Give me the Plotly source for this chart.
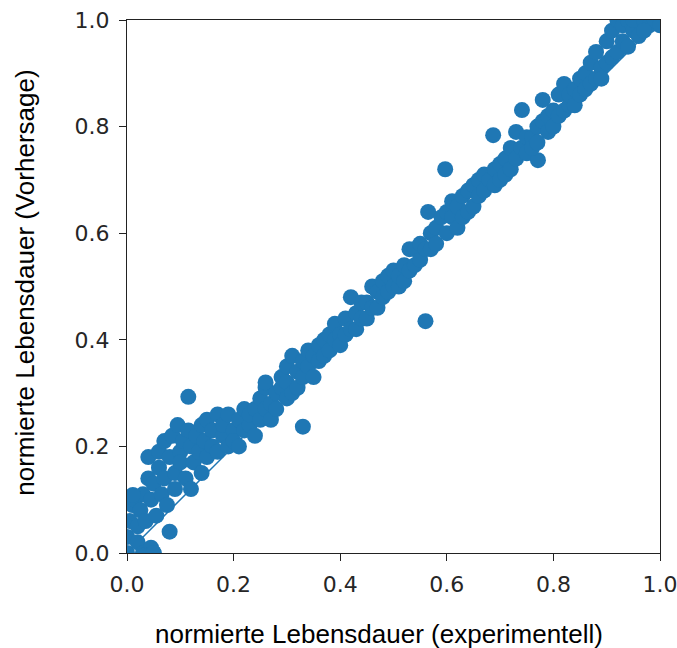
import plotly.graph_objects as go

# experimental normalized lifetime (x) and predicted (y)
x_exp = [
    0.00, 0.00, 0.005, 0.01, 0.015, 0.02, 0.02, 0.025, 0.03, 0.03, 0.035, 0.04, 0.04, 0.045, 0.045,
    0.05, 0.05, 0.055, 0.06, 0.06, 0.065, 0.07, 0.07, 0.075, 0.08, 0.08, 0.085, 0.09, 0.09, 0.095,
    0.10, 0.10, 0.105, 0.11, 0.115, 0.115, 0.12, 0.12, 0.125, 0.13, 0.135, 0.14, 0.14, 0.145, 0.15,
    0.15, 0.011, 0.03, 0.05,
    0.16, 0.16, 0.17, 0.17, 0.18, 0.18, 0.19, 0.19, 0.20, 0.20, 0.21, 0.21, 0.22, 0.22, 0.23, 0.23,
    0.24, 0.24, 0.25, 0.25, 0.26, 0.26, 0.26, 0.27, 0.27, 0.28, 0.28, 0.29, 0.29, 0.30, 0.30, 0.30,
    0.33,
    0.31, 0.31, 0.32, 0.32, 0.33, 0.33, 0.34, 0.34, 0.35, 0.35, 0.36, 0.36, 0.37, 0.37, 0.38, 0.38,
    0.39, 0.39, 0.40, 0.40, 0.41, 0.41, 0.42, 0.42, 0.43, 0.43, 0.44, 0.44,
    0.45, 0.45, 0.46, 0.46, 0.47, 0.47, 0.48, 0.48, 0.49, 0.49, 0.50, 0.50, 0.51, 0.51, 0.52, 0.52,
    0.53, 0.53, 0.54, 0.54, 0.55, 0.55, 0.56, 0.56, 0.565, 0.57, 0.57, 0.58, 0.58, 0.59, 0.597,
    0.60, 0.60,
    0.61, 0.61, 0.62, 0.62, 0.63, 0.63, 0.64, 0.64, 0.65, 0.65, 0.66, 0.66, 0.67, 0.67, 0.687, 0.68,
    0.69, 0.69, 0.70, 0.70, 0.71, 0.71, 0.72, 0.72, 0.73, 0.73, 0.741, 0.74, 0.75, 0.75, 0.771,
    0.76, 0.76, 0.77, 0.77, 0.78, 0.78, 0.79, 0.79, 0.80, 0.80, 0.81, 0.81, 0.82, 0.82, 0.83, 0.83,
    0.84, 0.84, 0.85, 0.85, 0.86, 0.86, 0.87, 0.87, 0.88, 0.88, 0.89, 0.89, 0.90, 0.90, 0.91, 0.91,
    0.92, 0.92, 0.93, 0.93, 0.94, 0.94, 0.95, 0.95, 0.96, 0.97, 0.98, 0.99, 1.00, 0.97,
]
y_pred = [
    0.00, 0.03, 0.06, 0.09, 0.10, 0.02, 0.05, 0.08, 0.00, 0.11, 0.06, 0.14, 0.18, 0.01, 0.10,
    0.00, 0.13, 0.07, 0.16, 0.19, 0.11, 0.21, 0.14, 0.09, 0.04, 0.18, 0.22, 0.15, 0.12, 0.24,
    0.19, 0.17, 0.21, 0.14, 0.293, 0.23, 0.20, 0.12, 0.17, 0.22, 0.19, 0.24, 0.15, 0.21, 0.18,
    0.25, 0.109, -0.005, 0.00,
    0.20, 0.23, 0.19, 0.26, 0.22, 0.24, 0.20, 0.26, 0.23, 0.21, 0.25, 0.20, 0.27, 0.23, 0.24, 0.26,
    0.22, 0.27, 0.25, 0.29, 0.27, 0.31, 0.32, 0.28, 0.25, 0.30, 0.27, 0.31, 0.33, 0.29, 0.32, 0.35,
    0.237,
    0.37, 0.30, 0.34, 0.31, 0.36, 0.33, 0.35, 0.38, 0.33, 0.37, 0.36, 0.39, 0.40, 0.37, 0.38, 0.41,
    0.40, 0.43, 0.41, 0.39, 0.44, 0.41, 0.48, 0.42, 0.45, 0.42, 0.47, 0.44,
    0.44, 0.47, 0.50, 0.46, 0.46, 0.49, 0.48, 0.51, 0.49, 0.52, 0.53, 0.50, 0.50, 0.52, 0.54, 0.51,
    0.57, 0.53, 0.54, 0.57, 0.55, 0.58, 0.435, 0.57, 0.64, 0.60, 0.57, 0.61, 0.58, 0.63, 0.72,
    0.60, 0.64,
    0.63, 0.66, 0.61, 0.65, 0.67, 0.63, 0.68, 0.64, 0.69, 0.65, 0.70, 0.67, 0.68, 0.71, 0.784, 0.70,
    0.72, 0.69, 0.73, 0.70, 0.74, 0.71, 0.76, 0.72, 0.79, 0.74, 0.831, 0.76, 0.78, 0.75, 0.737,
    0.78, 0.76, 0.80, 0.77, 0.85, 0.81, 0.79, 0.82, 0.83, 0.80, 0.86, 0.82, 0.88, 0.83, 0.84, 0.86,
    0.87, 0.84, 0.89, 0.86, 0.87, 0.90, 0.88, 0.92, 0.89, 0.94, 0.91, 0.89, 0.92, 0.96, 0.93, 0.98,
    0.94, 1.00, 0.96, 0.99, 1.00, 0.95, 0.98, 1.00, 0.97, 1.00, 0.99, 1.00, 0.99, 0.98,
]
line_x = [0.0, 1.0]
line_y = [0.0, 1.0]
tick_vals = [0.0, 0.2, 0.4, 0.6, 0.8, 1.0]
tick_text = ["0.0", "0.2", "0.4", "0.6", "0.8", "1.0"]
x_title = "normierte Lebensdauer (experimentell)"
y_title = "normierte Lebensdauer (Vorhersage)"

blue = "#1f77b4"

fig = go.Figure()
fig.add_trace(go.Scatter(x=line_x, y=line_y, mode="lines",
                         line=dict(color=blue, width=1.5), showlegend=False))
fig.add_trace(go.Scatter(x=x_exp, y=y_pred, mode="markers",
                         marker=dict(color=blue, size=16, line=dict(width=0)),
                         showlegend=False, cliponaxis=True))

axis_common = dict(
    range=[0, 1], tickvals=tick_vals, ticktext=tick_text,
    showgrid=False, zeroline=False, showline=True, mirror=True,
    linecolor="#222222", linewidth=1.4, ticks="outside", ticklen=7,
    tickcolor="#222222", tickwidth=1.4, automargin=False,
    ticklabeloverflow="allow",
    tickfont=dict(family="DejaVu Sans", size=22, color="#262626"),
)

title_font = dict(family="Liberation Sans, Arial", size=26, color="black")

fig.update_layout(
    width=677, height=648,
    margin=dict(l=127, r=17, t=20, b=95),
    paper_bgcolor="white", plot_bgcolor="white",
    xaxis=dict(**axis_common, ticklabelstandoff=4),
    yaxis=dict(**axis_common, ticklabelstandoff=5),
    annotations=[
        dict(text=x_title, xref="paper", yref="paper", x=0.4728, y=-0.152,
             xanchor="center", yanchor="middle", showarrow=False, font=title_font),
        dict(text=y_title, xref="paper", yref="paper", x=-0.1914, y=0.507,
             xanchor="center", yanchor="middle", showarrow=False, textangle=-90,
             font=title_font),
    ],
)

fig.write_html("out.html")
